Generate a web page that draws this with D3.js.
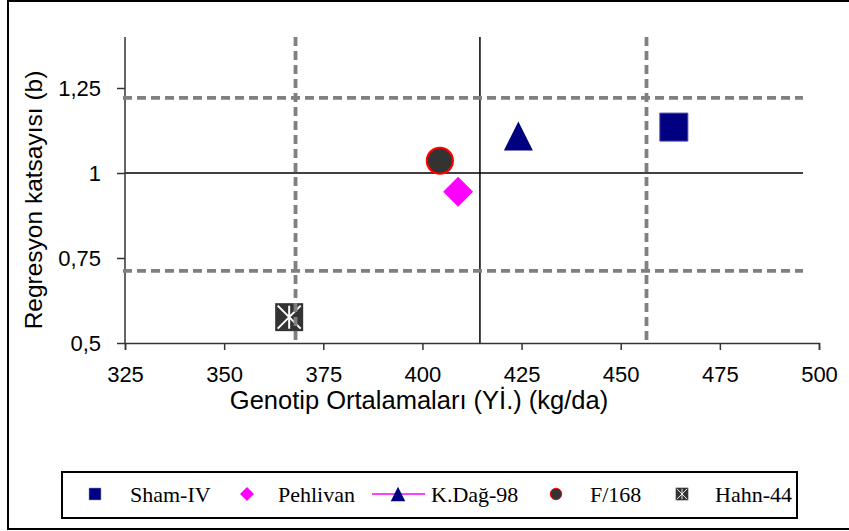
<!DOCTYPE html>
<html><head><meta charset="utf-8">
<script src="https://cdn.jsdelivr.net/npm/d3@7"></script>
<style>body{margin:0;background:#fff}svg{display:block}</style>
</head><body>
<svg id="c" width="849" height="531"></svg>
<script>
const genotypes = ["Sham-IV", "Pehlivan", "K.Dağ-98", "F/168", "Hahn-44"];
const meanYield = [463.4, 409.0, 424.2, 404.4, 366.4];
const regressionB = [1.135, 0.945, 1.109, 1.036, 0.576];
const xTicks = [325, 350, 375, 400, 425, 450, 475, 500];
const yTicks = [0.5, 0.75, 1, 1.25];
const yTickLabels = ["0,5", "0,75", "1", "1,25"];
const refX = 414.5, refY = 1;          // solid reference lines
const dashedX = [368.0, 456.5];         // dashed limits
const dashedY = [0.712, 1.221];

const svg = d3.select("#c");
const x = d3.scaleLinear().domain([325, 500]).range([125, 819]);
const y = d3.scaleLinear().domain([0.5, 1.4]).range([343, 37]);
const sans = "Liberation Sans, Arial, sans-serif";

// outer frame
svg.append("rect").attr("x", 8).attr("y", 1).attr("width", 849).attr("height", 528)
  .attr("fill", "none").attr("stroke", "#000").attr("stroke-width", 2);

// solid reference lines
svg.append("line").attr("x1", x(325)).attr("x2", 803).attr("y1", y(refY)).attr("y2", y(refY))
  .attr("stroke", "#000").attr("stroke-width", 1.5);
svg.append("line").attr("x1", x(refX)).attr("x2", x(refX)).attr("y1", y(1.4)).attr("y2", y(0.5))
  .attr("stroke", "#000").attr("stroke-width", 1.5);

// axes
const xAxis = svg.append("g").attr("transform", `translate(0,${y(0.5)})`)
  .call(d3.axisBottom(x).tickValues(xTicks).tickSize(7).tickSizeOuter(7).tickPadding(16));
const yAxis = svg.append("g").attr("transform", `translate(${x(325)},0)`)
  .call(d3.axisLeft(y).tickValues(yTicks).tickFormat((d, i) => yTickLabels[i]).tickSize(8).tickSizeOuter(0).tickPadding(16));
[xAxis, yAxis].forEach(g => {
  g.select(".domain").attr("stroke", "#333").attr("stroke-width", 1.5);
  g.selectAll(".tick line").attr("stroke", "#333").attr("stroke-width", 1.5);
  g.selectAll("text").attr("font-family", sans).attr("font-size", 22).attr("fill", "#000");
});
yAxis.select(".domain").attr("d", `M0,${y(0.5)}V${y(1.4)}`);

// axis titles
svg.append("text").attr("x", 419).attr("y", 409).attr("text-anchor", "middle")
  .attr("font-family", sans).attr("font-size", 25.5)
  .text("Genotip Ortalamaları (Yİ.) (kg/da)");
svg.append("text").attr("transform", `translate(42,200) rotate(-90)`).attr("text-anchor", "middle")
  .attr("font-family", sans).attr("font-size", 24.5)
  .text("Regresyon katsayısı (b)");

// markers
const tri = () => "M0,-14.5L14.5,14.5L-14.5,14.5Z";
const sym = {
  "Sham-IV": d3.symbol(d3.symbolSquare, 28 * 28),
  "Pehlivan": d3.symbol(d3.symbolDiamond2, 570),
  "K.Dağ-98": tri,
  "F/168": d3.symbol(d3.symbolCircle, Math.PI * 13 * 13),
  "Hahn-44": d3.symbol(d3.symbolSquare, 28 * 28)
};
const fills = {"Sham-IV": "#000080", "Pehlivan": "#FF00FF", "K.Dağ-98": "#000080", "F/168": "#333333", "Hahn-44": "#333333"};
const strokes = {"Sham-IV": "#4848b0", "Pehlivan": "none", "K.Dağ-98": "none", "F/168": "#FF0000", "Hahn-44": "none"};

function drawMarker(g, name, scale) {
  const m = g.append("g").attr("transform", `scale(${scale})`);
  m.append("path").attr("d", sym[name]())
    .attr("fill", fills[name]).attr("stroke", strokes[name]).attr("stroke-width", name === "F/168" ? 2.2 : 1);
  if (name === "Hahn-44") {
    const h = 11.5;
    m.append("path").attr("d", `M${-h},${-h}L${h},${h}M${-h},${h}L${h},${-h}M0,${-h}V${h}`)
      .attr("stroke", "#fff").attr("stroke-width", 2);
  }
}

genotypes.forEach((name, i) => {
  const g = svg.append("g").attr("transform", `translate(${x(meanYield[i])},${y(regressionB[i])})`);
  drawMarker(g, name, 1);
});

// dashed limits (drawn on top)
dashedY.forEach(v => {
  svg.append("line").attr("x1", 123).attr("x2", 803).attr("y1", y(v)).attr("y2", y(v))
    .attr("stroke", "#808080").attr("stroke-width", 3.8).attr("stroke-dasharray", "9,5");
});
dashedX.forEach(v => {
  svg.append("line").attr("x1", x(v)).attr("x2", x(v)).attr("y1", y(1.4)).attr("y2", 340)
    .attr("stroke", "#808080").attr("stroke-width", 3.8).attr("stroke-dasharray", "9,5");
});

// legend
svg.append("rect").attr("x", 62).attr("y", 472).attr("width", 735).attr("height", 46)
  .attr("fill", "#fff").attr("stroke", "#000").attr("stroke-width", 2);
const legMarkerX = [95, 247, 398, 556, 682];
const legTextX = [130, 278, 431, 590, 715];
const legScale = {"Sham-IV": 0.42, "Pehlivan": 0.47, "K.Dağ-98": 0.5, "F/168": 0.44, "Hahn-44": 0.45};
genotypes.forEach((name, i) => {
  const ly = 494;
  if (name === "K.Dağ-98") {
    svg.append("line").attr("x1", 372).attr("x2", 425).attr("y1", ly).attr("y2", ly)
      .attr("stroke", "#FF00FF").attr("stroke-width", 1.5);
  }
  const g = svg.append("g").attr("transform", `translate(${legMarkerX[i]},${ly})`);
  drawMarker(g, name, legScale[name]);
  svg.append("text").attr("x", legTextX[i]).attr("y", ly + 8)
    .attr("font-family", "Liberation Serif, Times New Roman, serif").attr("font-size", 22)
    .text(name);
});
</script>
</body></html>
